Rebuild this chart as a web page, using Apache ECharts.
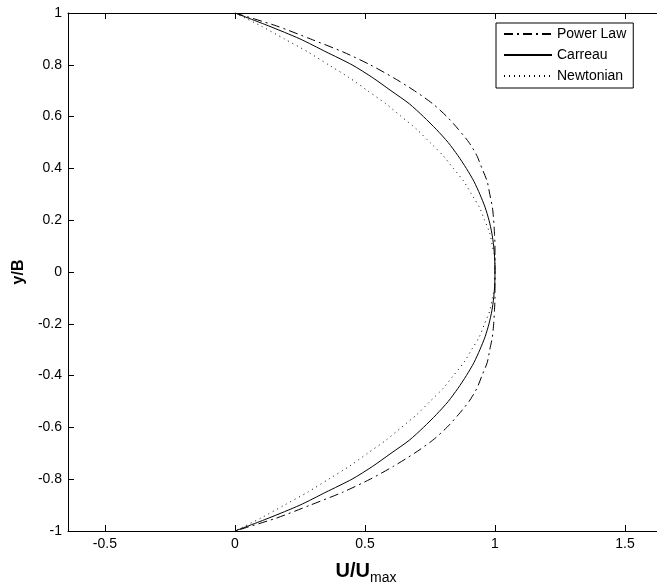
<!DOCTYPE html>
<html>
<head>
<meta charset="utf-8">
<script src="https://cdn.jsdelivr.net/npm/echarts@6/dist/echarts.min.js"></script>
<style>html,body{margin:0;padding:0;background:#fff;}#c{width:657px;height:586px;}</style>
</head>
<body>
<div id="c"></div>
<script>
// y/B positions across the channel
var yValues = [1, 0.95, 0.9, 0.85, 0.8, 0.75, 0.7, 0.65, 0.6, 0.55, 0.5, 0.45, 0.4, 0.35, 0.3, 0.25, 0.2, 0.15, 0.1, 0.05, 0,
  -0.05, -0.1, -0.15, -0.2, -0.25, -0.3, -0.35, -0.4, -0.45, -0.5, -0.55, -0.6, -0.65, -0.7, -0.75, -0.8, -0.85, -0.9, -0.95, -1];
// U/Umax
var powerLawU = [0, 0.16, 0.29, 0.415, 0.52, 0.61, 0.69, 0.76, 0.815, 0.86, 0.90, 0.93, 0.95, 0.97, 0.98, 0.99, 0.995, 0.998, 1, 1, 1,
  1, 1, 0.998, 0.995, 0.99, 0.98, 0.97, 0.95, 0.93, 0.90, 0.86, 0.815, 0.76, 0.69, 0.61, 0.52, 0.415, 0.29, 0.16, 0];
var carreauU = [0, 0.13, 0.25, 0.35, 0.45, 0.53, 0.60, 0.67, 0.725, 0.775, 0.82, 0.857, 0.89, 0.919, 0.942, 0.962, 0.977, 0.988, 0.995, 0.999, 1,
  0.999, 0.995, 0.988, 0.977, 0.962, 0.942, 0.919, 0.89, 0.857, 0.82, 0.775, 0.725, 0.67, 0.60, 0.53, 0.45, 0.35, 0.25, 0.13, 0];
var newtonianU = [0, 0.10, 0.19, 0.28, 0.36, 0.44, 0.51, 0.58, 0.64, 0.70, 0.75, 0.80, 0.84, 0.88, 0.91, 0.94, 0.96, 0.98, 0.99, 1, 1,
  1, 0.99, 0.98, 0.96, 0.94, 0.91, 0.88, 0.84, 0.80, 0.75, 0.70, 0.64, 0.58, 0.51, 0.44, 0.36, 0.28, 0.19, 0.10, 0];
var xTicks = [-0.5, 0, 0.5, 1, 1.5];
var seriesNames = ['Power Law', 'Carreau', 'Newtonian'];

function pairs(u) { return yValues.map(function (y, i) { return [u[i], y]; }); }

var FONT = 'Liberation Sans, Arial, sans-serif';
var chart = echarts.init(document.getElementById('c'), null, {renderer: 'canvas'});
var xCommon = {
  type: 'value', min: -0.642, max: 1.65,
  axisLine: {show: true, onZero: false, lineStyle: {color: '#000', width: 1}},
  axisTick: {show: true, inside: true, length: 6, customValues: xTicks, lineStyle: {color: '#000'}},
  splitLine: {show: false}
};
chart.setOption({
  animation: false,
  grid: {left: 68, width: 596, top: 13, height: 518, containLabel: false, outerBoundsMode: 'none'},
  legend: {
    data: seriesNames,
    orient: 'vertical',
    left: 496, top: 23,
    width: 136,
    itemWidth: 48, itemHeight: 14, itemGap: 7,
    padding: [4, 7, 5, 7],
    borderColor: '#000', borderWidth: 1, backgroundColor: '#fff', borderRadius: 0,
    itemStyle: {opacity: 0},
    textStyle: {fontFamily: FONT, fontSize: 14, color: '#000'}
  },
  xAxis: [
    Object.assign({}, xCommon, {
      position: 'bottom',
      axisLabel: {show: true, customValues: xTicks, color: '#000', fontFamily: FONT, fontSize: 14, margin: 6},
      name: '{a|U/U}{b|max}',
      nameLocation: 'middle', nameGap: 26,
      nameTextStyle: {rich: {a: {fontFamily: FONT, fontSize: 20, fontWeight: 'bold', color: '#000'},
                             b: {fontFamily: FONT, fontSize: 14, color: '#000', padding: [14, 0, 0, 0]}}}
    }),
    Object.assign({}, xCommon, {position: 'top', axisLabel: {show: false}})
  ],
  yAxis: {
    type: 'value', min: -1, max: 1, interval: 0.2,
    axisLine: {show: true, onZero: false, lineStyle: {color: '#000', width: 1}},
    axisTick: {show: true, inside: true, length: 6, lineStyle: {color: '#000'}},
    axisLabel: {color: '#000', fontFamily: FONT, fontSize: 14, margin: 6},
    splitLine: {show: false},
    name: 'y/B', nameLocation: 'middle', nameGap: 37,
    nameTextStyle: {fontFamily: FONT, fontSize: 16, fontWeight: 'bold', color: '#000'}
  },
  series: [
    {name: seriesNames[0], type: 'line', data: pairs(powerLawU), showSymbol: false, symbol: 'none', smooth: 0.25,
     lineStyle: {color: '#000', width: 1, type: [9, 4, 2, 4]}, itemStyle: {color: '#000'}},
    {name: seriesNames[1], type: 'line', data: pairs(carreauU), showSymbol: false, symbol: 'none', smooth: 0.25,
     lineStyle: {color: '#000', width: 1, type: 'solid'}, itemStyle: {color: '#000'}},
    {name: seriesNames[2], type: 'line', data: pairs(newtonianU), showSymbol: false, symbol: 'none', smooth: 0.25,
     lineStyle: {color: '#000', width: 1, type: [1, 4]}, itemStyle: {color: '#000'}}
  ]
});
</script>
</body>
</html>
